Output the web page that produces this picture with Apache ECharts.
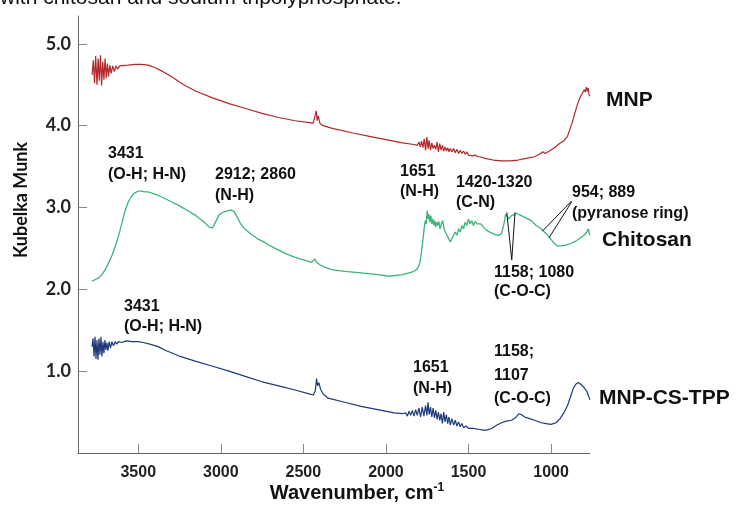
<!DOCTYPE html>
<html><head><meta charset="utf-8">
<script src="https://cdn.jsdelivr.net/npm/echarts@6/dist/echarts.min.js"></script>
<style>html,body{margin:0;padding:0;background:#fff;}#c{width:736px;height:506px;}</style>
</head><body><div id="c"></div>
<script>
// ---- data (wavenumber cm^-1, Kubelka-Munk) ----
var xTicks = [3500, 3000, 2500, 2000, 1500, 1000];
var yTicks = [1, 2, 3, 4, 5];
var seriesNames = ['MNP', 'Chitosan', 'MNP-CS-TPP'];
var mnpData = [[3780,4.62],[3772,4.80],[3765,4.52],[3758,4.85],[3750,4.50],[3743,4.82],[3736,4.55],[3729,4.86],[3722,4.49],[3715,4.78],[3708,4.56],[3701,4.82],[3694,4.58],[3687,4.76],[3680,4.60],[3672,4.74],[3664,4.64],[3655,4.73],[3645,4.66],[3635,4.73],[3625,4.69],[3612,4.73],[3600,4.72],[3560,4.74],[3520,4.75],[3480,4.75],[3440,4.74],[3400,4.71],[3350,4.66],[3300,4.60],[3225,4.50],[3150,4.42],[3050,4.34],[2950,4.27],[2850,4.21],[2750,4.15],[2650,4.10],[2550,4.06],[2440,4.03],[2428,4.02],[2422,4.18],[2416,4.06],[2410,4.12],[2400,4.03],[2380,4.00],[2330,3.97],[2200,3.91],[2100,3.87],[2000,3.83],[1900,3.79],[1830,3.77],[1810,3.76],[1800,3.80],[1792,3.74],[1784,3.81],[1776,3.73],[1768,3.84],[1760,3.70],[1752,3.86],[1745,3.72],[1738,3.82],[1730,3.70],[1722,3.79],[1714,3.72],[1706,3.76],[1698,3.71],[1690,3.80],[1682,3.68],[1674,3.78],[1666,3.70],[1658,3.76],[1650,3.69],[1642,3.74],[1634,3.69],[1626,3.73],[1618,3.68],[1610,3.72],[1600,3.68],[1590,3.72],[1580,3.67],[1570,3.71],[1560,3.66],[1550,3.70],[1540,3.66],[1530,3.69],[1520,3.65],[1510,3.68],[1500,3.64],[1490,3.66],[1475,3.63],[1460,3.64],[1445,3.62],[1430,3.62],[1400,3.60],[1350,3.58],[1300,3.57],[1250,3.57],[1200,3.58],[1150,3.60],[1100,3.62],[1070,3.65],[1050,3.68],[1035,3.66],[1010,3.69],[980,3.73],[950,3.78],[920,3.82],[900,3.87],[885,3.96],[870,4.05],[855,4.16],[840,4.26],[825,4.34],[815,4.38],[805,4.40],[798,4.44],[792,4.41],[786,4.47],[780,4.42],[775,4.46],[770,4.38],[765,4.36]];
var chitosanData = [[3780,2.10],[3760,2.12],[3740,2.14],[3720,2.18],[3700,2.24],[3680,2.32],[3660,2.41],[3640,2.52],[3620,2.65],[3600,2.80],[3580,2.96],[3560,3.07],[3540,3.14],[3520,3.18],[3500,3.20],[3480,3.20],[3460,3.19],[3440,3.19],[3410,3.17],[3380,3.15],[3340,3.11],[3300,3.07],[3250,3.02],[3200,2.96],[3150,2.90],[3100,2.82],[3070,2.76],[3050,2.75],[3030,2.83],[3010,2.91],[2990,2.94],[2960,2.96],[2940,2.97],[2920,2.95],[2900,2.88],[2880,2.80],[2860,2.75],[2820,2.68],[2780,2.62],[2740,2.58],[2700,2.53],[2650,2.48],[2600,2.43],[2550,2.39],[2500,2.36],[2450,2.33],[2438,2.35],[2430,2.37],[2420,2.33],[2400,2.30],[2370,2.27],[2330,2.24],[2250,2.22],[2150,2.20],[2050,2.18],[1980,2.16],[1940,2.17],[1900,2.18],[1860,2.20],[1830,2.22],[1810,2.25],[1795,2.32],[1785,2.45],[1775,2.62],[1768,2.75],[1762,2.84],[1756,2.80],[1750,2.96],[1745,2.86],[1740,2.92],[1734,2.82],[1728,2.90],[1722,2.80],[1716,2.86],[1710,2.78],[1704,2.84],[1698,2.76],[1692,2.82],[1686,2.78],[1680,2.83],[1672,2.74],[1664,2.80],[1656,2.84],[1648,2.74],[1640,2.70],[1630,2.66],[1620,2.62],[1610,2.58],[1600,2.60],[1590,2.66],[1580,2.70],[1570,2.66],[1560,2.74],[1550,2.70],[1540,2.78],[1530,2.74],[1520,2.82],[1510,2.78],[1500,2.86],[1490,2.80],[1480,2.84],[1470,2.78],[1460,2.83],[1450,2.80],[1440,2.82],[1425,2.80],[1410,2.76],[1390,2.72],[1370,2.70],[1340,2.67],[1320,2.66],[1300,2.68],[1285,2.80],[1275,2.92],[1265,2.90],[1255,2.86],[1240,2.90],[1225,2.91],[1210,2.93],[1180,2.90],[1150,2.87],[1120,2.84],[1090,2.78],[1060,2.74],[1040,2.70],[1020,2.66],[1000,2.61],[980,2.56],[960,2.53],[940,2.53],[910,2.54],[880,2.56],[850,2.59],[820,2.63],[795,2.67],[780,2.71],[774,2.74],[768,2.68],[764,2.66]];
var mnpCsTppData = [[3780,1.30],[3774,1.40],[3768,1.18],[3762,1.42],[3756,1.15],[3750,1.38],[3744,1.14],[3738,1.40],[3732,1.20],[3726,1.42],[3720,1.18],[3714,1.36],[3708,1.22],[3702,1.38],[3696,1.26],[3690,1.35],[3684,1.25],[3676,1.36],[3668,1.28],[3660,1.36],[3650,1.31],[3640,1.36],[3630,1.33],[3620,1.36],[3600,1.35],[3570,1.37],[3540,1.36],[3500,1.36],[3470,1.35],[3430,1.33],[3380,1.30],[3330,1.25],[3280,1.21],[3247,1.18],[3150,1.12],[3050,1.06],[2950,1.00],[2843,0.93],[2750,0.87],[2650,0.82],[2550,0.77],[2460,0.72],[2440,0.71],[2428,0.76],[2420,0.91],[2414,0.82],[2406,0.86],[2396,0.78],[2380,0.72],[2350,0.67],[2250,0.62],[2150,0.57],[2050,0.53],[1950,0.49],[1900,0.48],[1880,0.49],[1870,0.45],[1860,0.51],[1850,0.46],[1840,0.52],[1830,0.45],[1820,0.53],[1810,0.46],[1800,0.55],[1790,0.44],[1780,0.56],[1770,0.45],[1760,0.58],[1752,0.46],[1745,0.62],[1738,0.47],[1730,0.56],[1722,0.44],[1714,0.55],[1706,0.43],[1698,0.52],[1690,0.41],[1682,0.50],[1674,0.40],[1666,0.48],[1658,0.36],[1650,0.50],[1642,0.38],[1634,0.47],[1626,0.36],[1618,0.44],[1610,0.34],[1600,0.42],[1590,0.34],[1580,0.40],[1570,0.33],[1560,0.38],[1550,0.32],[1540,0.36],[1530,0.31],[1515,0.33],[1500,0.30],[1470,0.30],[1440,0.29],[1410,0.28],[1390,0.28],[1360,0.30],[1330,0.34],[1300,0.37],[1270,0.39],[1240,0.40],[1215,0.43],[1195,0.48],[1180,0.47],[1160,0.44],[1130,0.42],[1100,0.40],[1060,0.37],[1030,0.36],[1000,0.35],[970,0.37],[945,0.42],[920,0.50],[900,0.58],[880,0.70],[865,0.79],[850,0.84],[835,0.86],[820,0.84],[810,0.82],[800,0.80],[790,0.79],[780,0.74],[770,0.68],[764,0.65]];
// annotation leader lines (wavenumber, KM)
var pyranoseLines = [[[875,3.08],[1053,2.71]],[[875,3.07],[1012,2.63]]];
var cocLines = [[[1238,2.36],[1268,2.94]],[[1238,2.36],[1218,2.94]]];

var AF = '"Liberation Sans", Arial, sans-serif';
var YF = 'Lato, "Open Sans", sans-serif';
function txt(t, x, y, size, opts) {
  opts = opts || {};
  return { type: 'text', x: x, y: y, rotation: opts.rot || 0, z: 100,
    style: { text: t, fill: '#111', fontFamily: opts.font || AF, fontWeight: opts.weight || 'bold', fontSize: size,
      align: opts.align || 'left', verticalAlign: opts.va || 'middle', rich: opts.rich } };
}
function ml(lines) {
  return lines.map(function (l) { return [{ coord: l[0] }, { coord: l[1] }]; });
}
var chart = echarts.init(document.getElementById('c'), null, { renderer: 'canvas' });
chart.setOption({
  animation: false,
  backgroundColor: '#fff',
  grid: { left: 78, right: 146, top: 16, bottom: 53, containLabel: false },
  xAxis: {
    type: 'value', inverse: true, min: 764, max: 3865,
    axisLine: { show: true, lineStyle: { color: '#666', width: 1 } },
    axisTick: { show: true, inside: true, length: 9, lineStyle: { color: '#888' }, customValues: xTicks },
    axisLabel: { show: true, margin: 12, color: '#222', fontFamily: AF, fontWeight: 'bold', fontSize: 16, customValues: xTicks,
      formatter: function (v) { return String(v); } },
    splitLine: { show: false }
  },
  yAxis: {
    type: 'value', min: 0, max: 5.34,
    axisLine: { show: true, lineStyle: { color: '#666', width: 1 } },
    axisTick: { show: true, inside: true, length: 9, lineStyle: { color: '#888' }, customValues: yTicks },
    axisLabel: { show: true, margin: 7, color: '#222', fontFamily: YF, fontWeight: 'bold', fontSize: 18, customValues: yTicks,
      formatter: function (v) { return v.toFixed(1); } },
    splitLine: { show: false }
  },
  series: [
    { name: seriesNames[0], type: 'line', data: mnpData, showSymbol: false, lineStyle: { color: '#b3262a', width: 1.2 } },
    { name: seriesNames[1], type: 'line', data: chitosanData, showSymbol: false, lineStyle: { color: '#3cb47a', width: 1.3 },
      markLine: { silent: true, symbol: ['none', 'none'], label: { show: false },
        lineStyle: { color: '#111', width: 1, type: 'solid' },
        data: ml(pyranoseLines).concat(ml(cocLines)) } },
    { name: seriesNames[2], type: 'line', data: mnpCsTppData, showSymbol: false, lineStyle: { color: '#1e3a7b', width: 1.2 } }
  ],
  graphic: [
    txt('with chitosan and sodium tripolyphosphate.', 0, -12, 21, { weight: 'normal', va: 'top' }),
    txt('Kubelka Munk', 21, 200, 18, { rot: Math.PI / 2, align: 'center', font: YF }),
    txt('Wavenumber, cm{s|-1}', 357, 493, 20, { align: 'center',
      rich: { s: { fontSize: 12, fontWeight: 'bold', fontFamily: AF, fill: '#111', verticalAlign: 'top', padding: [0, 0, 10, 0] } } }),
    txt('MNP', 606, 100, 21),
    txt('Chitosan', 602, 240, 21),
    txt('MNP-CS-TPP', 599, 398, 21),
    txt('3431', 108, 154, 16), txt('(O-H; H-N)', 108, 175, 16),
    txt('2912; 2860', 215, 175, 16), txt('(N-H)', 215, 196, 16),
    txt('1651', 400, 172, 16), txt('(N-H)', 400, 192, 16),
    txt('1420-1320', 456, 183, 16), txt('(C-N)', 456, 203, 16),
    txt('954; 889', 572, 193, 16), txt('(pyranose ring)', 572, 214, 16),
    txt('1158; 1080', 494, 273, 16), txt('(C-O-C)', 494, 292, 16),
    txt('3431', 124, 307, 16), txt('(O-H; H-N)', 124, 327, 16),
    txt('1651', 413, 368, 16), txt('(N-H)', 413, 389, 16),
    txt('1158;', 494, 352, 16), txt('1107', 494, 376, 16), txt('(C-O-C)', 494, 399, 16)
  ]
});
</script></body></html>
